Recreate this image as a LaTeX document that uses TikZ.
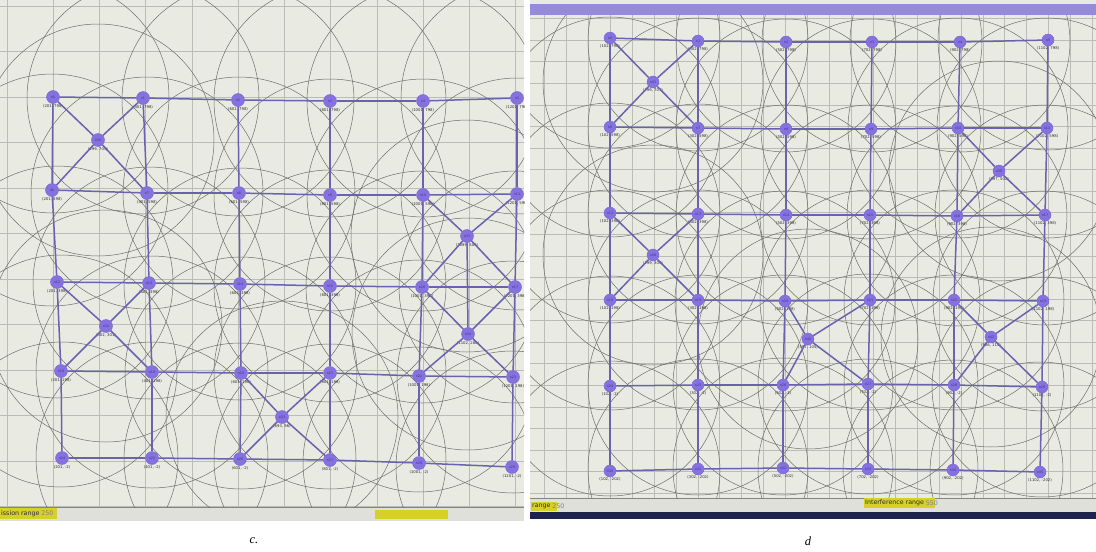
\documentclass[tikz,border=0pt]{standalone}
\usepackage{fontspec}
\setmainfont{Liberation Serif}
\newfontfamily\labfont{DejaVu Sans}
\definecolor{panelbg}{RGB}{233,234,226}
\definecolor{statbg}{RGB}{224,224,218}
\definecolor{gridcol}{RGB}{188,188,182}
\definecolor{circcol}{RGB}{110,110,106}
\definecolor{edgecol}{RGB}{105,98,175}
\definecolor{nodefill}{RGB}{134,114,222}
\definecolor{nodedraw}{RGB}{118,98,214}
\definecolor{nodetext}{RGB}{70,50,150}
\definecolor{labtext}{RGB}{45,45,45}
\definecolor{yel}{RGB}{214,208,40}
\definecolor{barpurple}{RGB}{150,138,218}
\definecolor{barnavy}{RGB}{30,34,78}
\tikzset{
  cnode/.style={circle, fill=nodefill, draw=nodedraw, line width=0.4pt, minimum size=13pt, inner sep=0pt,
    font=\labfont\fontsize{3.4}{3.4}\selectfont, text=nodetext},
  dnode/.style={cnode, minimum size=12pt},
  lab/.style={font=\labfont\fontsize{3.8}{3.8}\selectfont, text=labtext, inner sep=0.6pt, anchor=north},
  link/.style={draw=edgecol, line width=1.5pt},
  rng/.style={draw=circcol, line width=0.5pt},
  gridl/.style={draw=gridcol, line width=0.5pt},
  ui/.style={font=\labfont\fontsize{6.3}{6.3}\selectfont, inner sep=1pt, anchor=west, text=labtext},
  uinum/.style={ui, text=gray},
  captxt/.style={font=\itshape\fontsize{12.5}{12.5}\selectfont}
}
\def\clist{0/53/97/{(201, 798)}, 1/143/98/{(401, 798)}, 2/238/100/{(601, 798)}, 3/330/101/{(801, 798)}, 4/423/101/{(1001, 798)}, 5/517/98/{(1201, 798)},
6/52/190/{(201, 598)}, 7/147/193/{(401, 598)}, 8/239/193/{(601, 598)}, 9/330/195/{(801, 598)}, 10/423/195/{(1001, 598)}, 11/517/194/{(1201, 598)},
12/57/282/{(201, 398)}, 13/149/283/{(401, 398)}, 14/240/284/{(601, 398)}, 15/330/286/{(801, 398)}, 16/422/287/{(1001, 398)}, 17/515/287/{(1201, 398)},
18/61/371/{(201, 198)}, 19/152/372/{(401, 198)}, 20/241/373/{(601, 198)}, 21/330/373/{(801, 198)}, 22/419/376/{(1001, 198)}, 23/513/377/{(1201, 198)},
24/62/458/{(201, -2)}, 25/152/458/{(401, -2)}, 26/240/459/{(601, -2)}, 27/330/460/{(801, -2)}, 28/419/463/{(1001, -2)}, 29/512/467/{(1201, -2)},
30/98/140/{(299, 709)}, 31/467/236/{(1099, 509)}, 32/106/326/{(302, 301)}, 33/282/417/{(693, 96)}, 34/468/334/{(1102, 280)}}
\def\dlist{0/610/38/{(102, 798)}, 1/698/41/{(302, 798)}, 2/786/42/{(502, 798)}, 3/872/42/{(702, 798)}, 4/960/42/{(902, 798)}, 5/1048/40/{(1102, 798)},
6/610/127/{(102, 598)}, 7/698/128/{(302, 598)}, 8/786/129/{(502, 598)}, 9/871/129/{(702, 598)}, 10/958/128/{(902, 598)}, 11/1047/128/{(1102, 598)},
12/610/213/{(102, 398)}, 13/698/214/{(302, 398)}, 14/786/215/{(502, 398)}, 15/870/215/{(702, 398)}, 16/957/216/{(902, 398)}, 17/1045/215/{(1102, 398)},
18/610/300/{(102, 198)}, 19/698/300/{(302, 198)}, 20/785/301/{(502, 198)}, 21/870/300/{(702, 198)}, 22/954/300/{(902, 198)}, 23/1043/301/{(1102, 198)},
24/610/386/{(102, -2)}, 25/698/385/{(302, -2)}, 26/783/385/{(502, -2)}, 27/868/384/{(702, -2)}, 28/954/385/{(902, -2)}, 29/1042/387/{(1102, -2)},
30/610/471/{(102, -202)}, 31/698/469/{(302, -202)}, 32/783/468/{(502, -202)}, 33/868/469/{(702, -202)}, 34/953/470/{(902, -202)}, 35/1040/472/{(1102, -202)},
41/653/82/{(199, 701)}, 39/999/171/{(997, 502)}, 38/653/255/{(199, 304)}, 40/808/339/{(597, 105)}, 42/991/337/{(986, 114)}}
\begin{document}
\begin{tikzpicture}[x=1pt,y=-1pt]
\useasboundingbox (0,0) rectangle (1096,552);
\fill[white] (0,0) rectangle (1096,552);
% ---------- panel c ----------
\fill[panelbg] (0,0) rectangle (524,507);
\fill[statbg] (0,507) rectangle (524,521);
\draw[gridcol!70!black, line width=0.6pt] (0,507) -- (524,507);
\begin{scope}
\clip (0,0) rectangle (524,507);
\foreach \k in {-1,...,10} \draw[gridl] ({53+46.25*\k},0) -- ({53+46.25*\k},507);
\foreach \k in {-2,...,9} \draw[gridl] (0,{97+45.5*\k}) -- (524,{97+45.5*\k});
\foreach \i/\x/\y/\l in \clist { \draw[rng] (\x,\y) circle (116pt); }
\foreach \i/\x/\y/\l in \clist {
  \node[cnode] (c\i) at (\x,\y) {n\i};
  \node[lab] (cl\i) at (c\i.south) {\l};
}
\foreach \r in {0,...,4}{\foreach \k in {0,...,4}{
  \pgfmathtruncatemacro\ia{6*\r+\k}\pgfmathtruncatemacro\ib{\ia+1}
  \draw[link] (c\ia) -- (c\ib);}}
\foreach \r in {0,...,3}{\foreach \k in {0,...,5}{
  \pgfmathtruncatemacro\ia{6*\r+\k}\pgfmathtruncatemacro\ib{\ia+6}
  \draw[link] (c\ia) -- (c\ib);}}
\foreach \e/\t in {30/0,30/1,30/6,30/7,31/10,31/11,31/16,31/17,31/34,34/16,34/17,34/22,34/23,32/12,32/13,32/18,32/19,33/20,33/21,33/26,33/27}
  \draw[link] (c\e) -- (c\t);
\end{scope}
\fill[yel] (0,508) rectangle (57,519);
\node[ui] (cst) at (0,513.5) {ission range};
\node[uinum, inner xsep=0.5pt] (cstn) at (cst.east) {250};
\fill[yel] (375,510) rectangle (448,519);
% ---------- panel d ----------
\fill[panelbg] (530,0) rectangle (1096,498);
\fill[barpurple] (530,4) rectangle (1096,15);
\fill[statbg] (530,498) rectangle (1096,512);
\fill[barnavy] (530,512) rectangle (1096,519);
\draw[gridcol!70!black, line width=0.6pt] (530,498) -- (1096,498);
\begin{scope}
\clip (530,15) rectangle (1096,498);
\foreach \k in {-4,...,22} \draw[gridl, line width=0.4pt] ({610+21.925*\k},15) -- ({610+21.925*\k},498);
\foreach \k in {-1,...,21} \draw[gridl, line width=0.4pt] (530,{40+21.575*\k}) -- (1096,{40+21.575*\k});
\foreach \i/\x/\y/\l in \dlist { \draw[rng] (\x,\y) circle (110pt); }
\foreach \i/\x/\y/\l in \dlist {
  \node[dnode] (d\i) at (\x,\y) {n\i};
  \node[lab] (dl\i) at (d\i.south) {\l};
}
\foreach \r in {0,...,5}{\foreach \k in {0,...,4}{
  \pgfmathtruncatemacro\ia{6*\r+\k}\pgfmathtruncatemacro\ib{\ia+1}
  \draw[link] (d\ia) -- (d\ib);}}
\foreach \r in {0,...,4}{\foreach \k in {0,...,5}{
  \pgfmathtruncatemacro\ia{6*\r+\k}\pgfmathtruncatemacro\ib{\ia+6}
  \draw[link] (d\ia) -- (d\ib);}}
\foreach \e/\t in {41/0,41/1,41/6,41/7,39/10,39/11,39/16,39/17,38/12,38/13,38/18,38/19,40/20,40/21,40/26,40/27,42/22,42/23,42/28,42/29}
  \draw[link] (d\e) -- (d\t);
\end{scope}
\fill[yel] (531,502) rectangle (557,511);
\node[ui] (dst1) at (531,506.5) {range};
\node[uinum, inner xsep=0.5pt] (dst1n) at (dst1.east) {250};
\fill[yel] (864,498) rectangle (935,508);
\node[ui] (dst2) at (864,503) {Interference range};
\node[uinum, inner xsep=0.5pt] (dst2n) at (dst2.east) {550};
% ---------- captions ----------
\node[captxt] (capc) at (254,541) {c.};
\node[captxt] (capd) at (808,541) {d};
\end{tikzpicture}
\end{document}
